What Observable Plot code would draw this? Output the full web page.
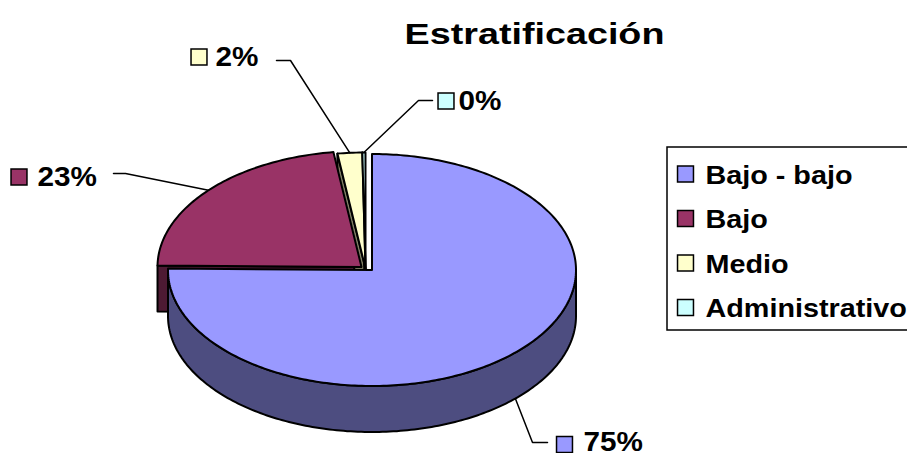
<!DOCTYPE html>
<html><head><meta charset="utf-8">
<script src="https://cdn.jsdelivr.net/npm/d3@7"></script>
<script src="https://cdn.jsdelivr.net/npm/@observablehq/plot@0.6"></script>
<style>body{margin:0;background:#fff}</style>
</head><body><div id="chart"></div>
<script>
// ---- data ----
const categories = ["Bajo - bajo", "Bajo", "Medio", "Administrativo"];
const percents = [75.2, 22.6, 1.95, 0.25];
const pctLabels = ["75%", "23%", "2%", "0%"];
const titleText = "Estratificación";
const topColors = ["#9999FF", "#993366", "#FFFFCC", "#CCFFFF"];
const sideColors = ["#4D4D80", "#4D1A33", "#808066", "#668080"];

// ---- layout ----
const W = 907, H = 453;
const RX = 204, RY = 116, DEPTH = 46;
const centers = [[371.5, 269.5], [361, 266.5], [365, 268], [365, 268]];
const labelLayout = [
  {elbow: [532, 442], end: [547, 442], box: [564, 444], tx: 583, ty: 450},
  {elbow: [125, 173], end: [113, 173], box: [18.5, 176.5], tx: 37, ty: 185},
  {elbow: [290, 60], end: [276, 60], box: [198.5, 56.5], tx: 215, ty: 65},
  {elbow: [418, 100], end: [432, 100], box: [445.5, 100.5], tx: 458, ty: 109.5}
];
const legend = {x1: 667, x2: 915, y1: 147, y2: 330, sx: 685, tx: 705, y0: 173.5, dy: 44.5};

const rad = d => d * Math.PI / 180;
const total = d3.sum(percents);
const angles = [];
{ let acc = 0; percents.forEach(p => { const a = p / total * 360; angles.push([acc, acc + a]); acc += a; }); }

function pt(i, t, dz = 0) {
  const [cx, cy] = centers[i];
  return [cx + RX * Math.sin(rad(t)), cy - RY * Math.cos(rad(t)) + dz];
}
function arc(i, s, e, dz) {
  const n = Math.max(2, Math.ceil(Math.abs(e - s)) + 1);
  return d3.range(n).map(k => pt(i, s + (e - s) * k / (n - 1), dz));
}
function ctr(i, dz = 0) { return [centers[i][0], centers[i][1] + dz]; }

const walls = [], tops = [];
const drawOrder = [1, 2, 3, 0];
for (const i of drawOrder) {
  const [s, e] = angles[i];
  const os = Math.max(s, 90), oe = Math.min(e, 270);
  if (os < oe) walls.push({pts: arc(i, os, oe, 0).concat(arc(i, oe, os, DEPTH)), fill: sideColors[i]});
  if (Math.sin(rad(s)) < -1e-6) walls.push({pts: [ctr(i), pt(i, s), pt(i, s, DEPTH), ctr(i, DEPTH)], fill: sideColors[i]});
  if (Math.sin(rad(e)) > 1e-6) walls.push({pts: [ctr(i), pt(i, e), pt(i, e, DEPTH), ctr(i, DEPTH)], fill: sideColors[i]});
  tops.push({pts: [ctr(i)].concat(arc(i, s, e, 0)), fill: topColors[i]});
}

const polyMarks = walls.concat(tops).map(p => Plot.line(p.pts, {
  x: d => d[0], y: d => d[1], fill: p.fill, stroke: "#000", strokeWidth: 2,
  strokeLinejoin: "round", curve: "linear-closed"
}));

const leaderRows = [];
categories.forEach((c, i) => {
  const [s, e] = angles[i];
  const mid = (s + e) / 2;
  const rim = Math.cos(rad(mid)) < 0 ? pt(i, mid, DEPTH) : pt(i, mid, 0);
  const L = labelLayout[i];
  [rim, L.elbow, L.end].forEach(p => leaderRows.push({i, x: p[0], y: p[1]}));
});

const idx = d3.range(categories.length);
const font = "Liberation Sans, Arial, sans-serif";

const chart = Plot.plot({
  width: W, height: H,
  marginTop: 0, marginRight: 0, marginBottom: 0, marginLeft: 0,
  x: {domain: [0, W], range: [0, W], axis: null},
  y: {domain: [0, H], range: [0, H], axis: null},
  style: {background: "#fff"},
  marks: [
    ...polyMarks,
    Plot.line(leaderRows, {x: "x", y: "y", z: "i", stroke: "#000", strokeWidth: 1.5}),
    Plot.dot(idx, {x: i => labelLayout[i].box[0], y: i => labelLayout[i].box[1], symbol: "square", r: 9,
      fill: i => topColors[i], stroke: "#000", strokeWidth: 1.5}),
    Plot.text(idx, {x: i => labelLayout[i].tx, y: i => labelLayout[i].ty, text: i => pctLabels[i],
      textAnchor: "start", lineAnchor: "bottom", fontSize: 27, fontWeight: "bold", fontFamily: font,
      fill: "#000"}),
    Plot.text([titleText], {x: 534, y: 43, text: d => d, textAnchor: "middle", lineAnchor: "bottom",
      fontSize: 29, fontWeight: "bold", fontFamily: font, fill: "#000"}),
    Plot.rect([0], {x1: legend.x1, x2: legend.x2, y1: legend.y1, y2: legend.y2, fill: "#fff", stroke: "#000", strokeWidth: 1.5}),
    Plot.dot(idx, {x: legend.sx, y: i => legend.y0 + i * legend.dy, symbol: "square", r: 9,
      fill: i => topColors[i], stroke: "#000", strokeWidth: 1.5}),
    Plot.text(idx, {x: legend.tx, y: i => legend.y0 + i * legend.dy + 9.5, text: i => categories[i],
      textAnchor: "start", lineAnchor: "bottom", fontSize: 25, fontWeight: "bold", fontFamily: font,
      fill: "#000"})
  ]
});
document.getElementById("chart").append(chart);
// horizontal widening of the bold lettering, as in the reference
const stretchBySize = {"29": 1.3, "27": 1.1, "25": 1.15};
chart.querySelectorAll("text").forEach(t => {
  let el = t, fs = null;
  while (el && el !== chart && !fs) { fs = el.getAttribute && el.getAttribute("font-size"); el = el.parentNode; }
  const f = stretchBySize[String(parseFloat(fs))];
  if (f) {
    const L = t.getComputedTextLength();
    t.setAttribute("textLength", L * f);
    t.setAttribute("lengthAdjust", "spacingAndGlyphs");
  }
});
</script>
</body></html>
